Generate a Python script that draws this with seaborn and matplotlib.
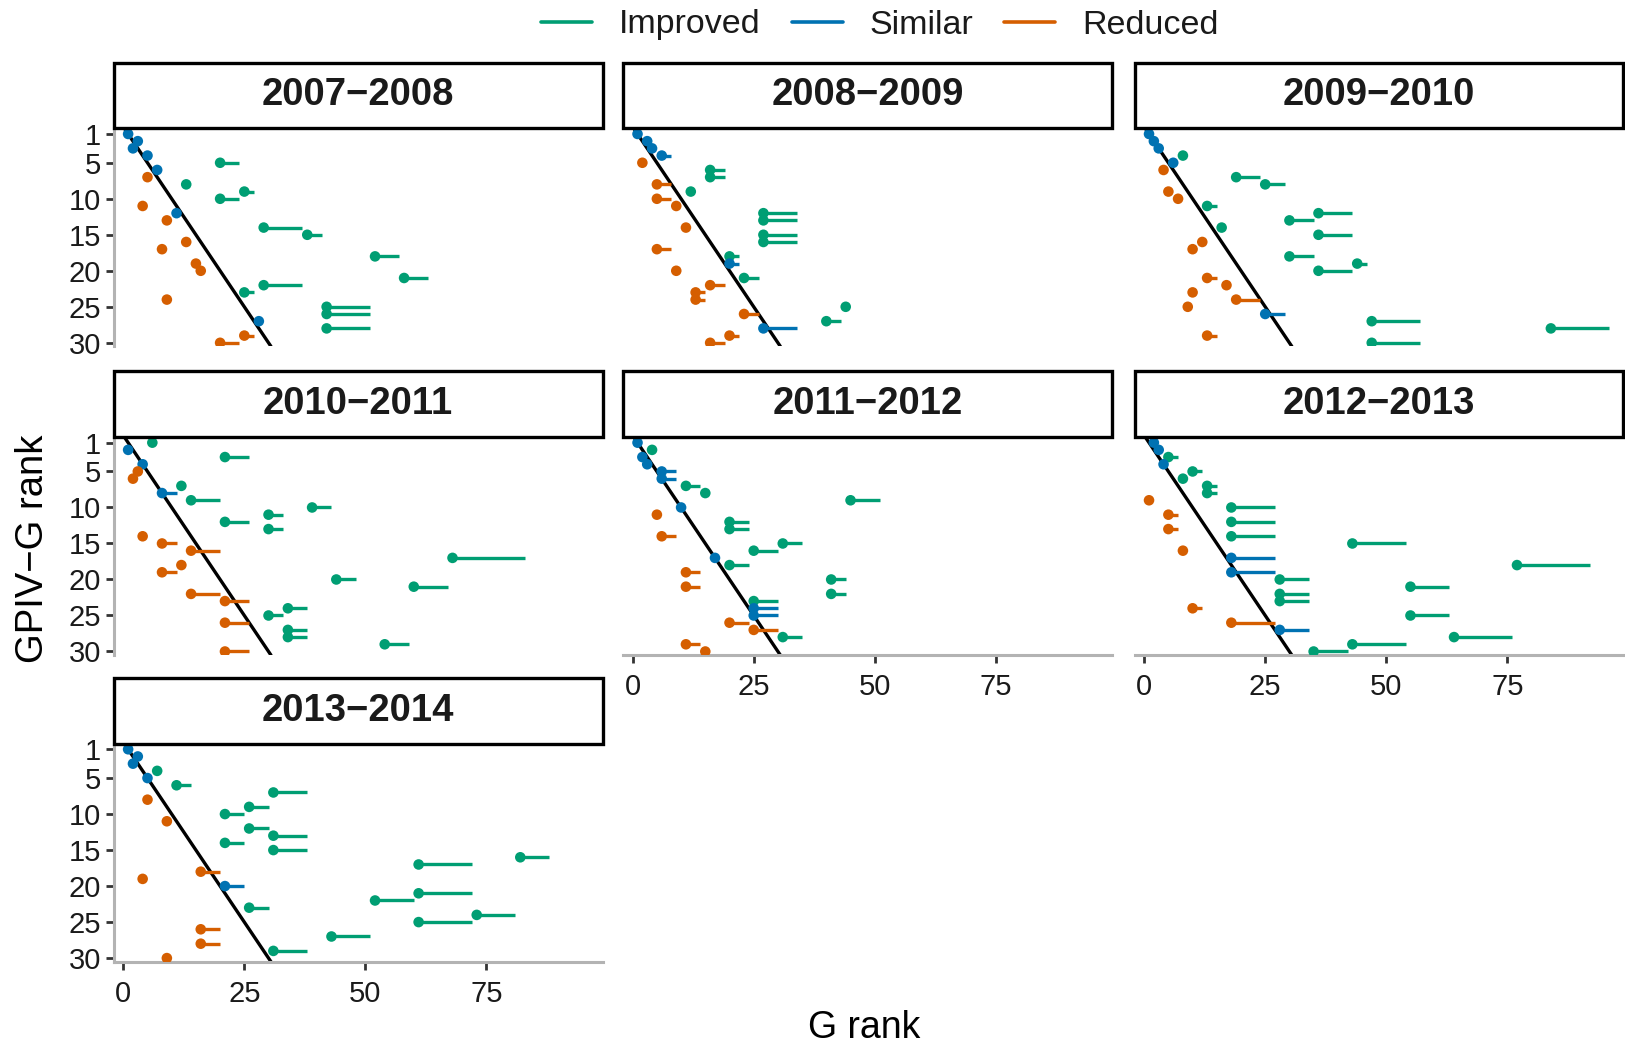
import matplotlib
matplotlib.use("Agg")
import matplotlib.pyplot as plt
from matplotlib.patches import Rectangle
from matplotlib.lines import Line2D
import pandas as pd
import seaborn as sns

# ---------------------------------------------------------------- data
PERIODS = ["2007−2008", "2008−2009", "2009−2010", "2010−2011",
           "2011−2012", "2012−2013", "2013−2014"]

# GPIV-G rank of each row (shared by every period)
GPIV_RANK = [1, 2, 3, 4, 5, 6, 7, 8, 9, 10, 11, 12, 13, 14, 15,
             16, 17, 18, 19, 20, 21, 22, 23, 24, 25, 26, 27, 28, 29, 30]

# G rank (start of tie range) and end of tie range, listed by GPIV-G rank
G_0708 = [1, 3, 2, 5, 20, 7, 5, 13, 25, 20, 4, 11, 9, 29, 38,
          13, 8, 52, 15, 16, 58, 29, 25, 9, 42, 42, 28, 42, 25, 20]
END_0708 = [1, 3, 2, 5, 24, 7, 5, 13, 27, 24, 4, 11, 9, 37, 41,
            13, 8, 57, 15, 16, 63, 37, 27, 9, 51, 51, 28, 51, 27, 24]
CHG_0708 = "SSSSISRIIIRSRIIRRIRRIIIRIISIRR"

G_0809 = [1, 3, 4, 6, 2, 16, 16, 5, 12, 5, 9, 27, 27, 11, 27,
          27, 5, 20, 20, 9, 23, 16, 13, 13, 44, 23, 40, 27, 20, 16]
END_0809 = [1, 3, 4, 8, 2, 19, 19, 8, 12, 8, 9, 34, 34, 11, 34,
            34, 8, 22, 22, 9, 26, 19, 15, 15, 44, 26, 43, 34, 22, 19]
CHG_0809 = "SSSSRIIRIRRIIRIIRISRIRRRIRISRR"

G_0910 = [1, 2, 3, 8, 6, 4, 19, 25, 5, 7, 13, 36, 30, 16, 36,
          12, 10, 30, 44, 36, 13, 17, 10, 19, 9, 25, 47, 84, 13, 47]
END_0910 = [1, 2, 3, 8, 6, 4, 24, 29, 5, 7, 15, 43, 35, 16, 43,
            12, 10, 35, 46, 43, 15, 17, 10, 24, 9, 29, 57, 96, 15, 57]
CHG_0910 = "SSSISRIIRRIIIIIRRIIIRRRRRSIIRI"

G_1011 = [6, 1, 21, 4, 3, 2, 12, 8, 14, 39, 30, 21, 30, 4, 8,
          14, 68, 12, 8, 44, 60, 14, 21, 34, 30, 21, 34, 34, 54, 21]
END_1011 = [6, 1, 26, 4, 3, 2, 12, 11, 20, 43, 33, 26, 33, 4, 11,
            20, 83, 12, 11, 48, 67, 20, 26, 38, 33, 26, 38, 38, 59, 26]
CHG_1011 = "ISISRRISIIIIIRRRIRRIIRRIIRIIIR"

G_1112 = [1, 4, 2, 3, 6, 6, 11, 15, 45, 10, 5, 20, 20, 6, 31,
          25, 17, 20, 11, 41, 11, 41, 25, 25, 25, 20, 25, 31, 11, 15]
END_1112 = [1, 4, 2, 3, 9, 9, 14, 15, 51, 10, 5, 24, 24, 9, 35,
            30, 17, 24, 14, 44, 14, 44, 30, 30, 30, 24, 30, 35, 14, 15]
CHG_1112 = "SISSSSIIISRIIRIISIRIRIISSRRIRR"

G_1213 = [2, 3, 5, 4, 10, 8, 13, 13, 1, 18, 5, 18, 5, 18, 43,
          8, 18, 77, 18, 28, 55, 28, 28, 10, 55, 18, 28, 64, 43, 35]
END_1213 = [2, 3, 7, 4, 12, 8, 15, 15, 1, 27, 7, 27, 7, 27, 54,
            8, 27, 92, 27, 34, 63, 34, 34, 12, 63, 27, 34, 76, 54, 42]
CHG_1213 = "SSISIIIIRIRIRIIRSISIIIIRIRSIII"

G_1314 = [1, 3, 2, 7, 5, 11, 31, 5, 26, 21, 9, 26, 31, 21, 31,
          82, 61, 16, 4, 21, 61, 52, 26, 73, 61, 16, 43, 16, 31, 9]
END_1314 = [1, 3, 2, 7, 5, 14, 38, 5, 30, 25, 9, 30, 38, 25, 38,
            88, 72, 20, 4, 25, 72, 60, 30, 81, 72, 20, 51, 20, 38, 9]
CHG_1314 = "SSSISIIRIIRIIIIIIRRSIIIIIRIRIR"

CHANGE_NAMES = {"I": "Improved", "S": "Similar", "R": "Reduced"}
HUE_ORDER = ["Improved", "Similar", "Reduced"]
PALETTE = {"Improved": "#009E73", "Similar": "#0072B2", "Reduced": "#D55E00"}

G_RANKS = [G_0708, G_0809, G_0910, G_1011, G_1112, G_1213, G_1314]
G_ENDS = [END_0708, END_0809, END_0910, END_1011, END_1112, END_1213, END_1314]
CHANGES = [CHG_0708, CHG_0809, CHG_0910, CHG_1011, CHG_1112, CHG_1213, CHG_1314]

records = []
for period, gr, ge, ch in zip(PERIODS, G_RANKS, G_ENDS, CHANGES):
    for y, x, xe, c in zip(GPIV_RANK, gr, ge, ch):
        records.append({"period": period, "gpiv_rank": y, "g_rank": x,
                        "g_end": xe, "change": CHANGE_NAMES[c]})
df = pd.DataFrame(records)

# ---------------------------------------------------------------- style
sns.set_style("white")
plt.rcParams["font.family"] = ["Liberation Sans", "DejaVu Sans"]

W, H = 1625, 1051
TICK_SIZE = 21
AXIS_GREY = "#b3b3b3"
TEXT_COL = "#1a1a1a"


def draw_panel(data, **kws):
    ax = plt.gca()
    ax.axline((0, 0), slope=1, color="black", lw=2.4, zorder=1)
    ax.hlines(data["gpiv_rank"], data["g_rank"], data["g_end"],
              colors=[PALETTE[c] for c in data["change"]], lw=2.4, zorder=2)
    sns.scatterplot(data=data, x="g_rank", y="gpiv_rank", hue="change",
                    hue_order=HUE_ORDER, palette=PALETTE, s=58, linewidth=0,
                    legend=False, ax=ax, zorder=3)


g = sns.FacetGrid(df, col="period", col_order=PERIODS, col_wrap=3,
                  sharex=True, sharey=True, height=3, aspect=1.6, despine=False)
g.map_dataframe(draw_panel)
g.set_titles("")
g.set_axis_labels("", "")

fig = g.figure
fig.set_size_inches(W / 100, H / 100)

# panel geometry in pixels
col_left = [113.6, 623.0, 1134.5]
row_top = [128.2, 436.9, 743.5]
panel_w, panel_h = 489.0, 218.2
strip_h = 65.5

for i, ax in enumerate(g.axes.flat):
    r, c = divmod(i, 3)
    left, top = col_left[c], row_top[r]
    ax.set_position([left / W, 1 - (top + panel_h) / H, panel_w / W, panel_h / H])
    ax.set_xlim(-2, 99)
    ax.set_ylim(30.5, 0.2)
    ax.set_xticks([0, 25, 50, 75])
    ax.set_yticks([1, 5, 10, 15, 20, 25, 30])
    ax.set_xlabel("")
    ax.set_ylabel("")

    is_left = c == 0
    is_bottom = i >= 4
    for side in ("top", "right"):
        ax.spines[side].set_visible(False)
    ax.spines["left"].set_visible(is_left)
    ax.spines["bottom"].set_visible(is_bottom)
    for side in ("left", "bottom"):
        ax.spines[side].set_color(AXIS_GREY)
        ax.spines[side].set_linewidth(2.2)
    ax.tick_params(axis="y", left=is_left, labelleft=is_left, length=6,
                   width=2.0, color="#333333", labelsize=TICK_SIZE,
                   labelcolor=TEXT_COL, pad=3)
    ax.tick_params(axis="x", bottom=is_bottom, labelbottom=is_bottom, length=6,
                   width=2.0, color="#333333", labelsize=TICK_SIZE,
                   labelcolor=TEXT_COL, pad=7)
    for lab in ax.get_xticklabels():
        lab.set_visible(is_bottom)
    for lab in ax.get_yticklabels():
        lab.set_visible(is_left)

    # facet strip
    h = strip_h / panel_h
    ax.add_patch(Rectangle((0, 1), 1, h, transform=ax.transAxes,
                           facecolor="white", edgecolor="black", lw=2.4,
                           clip_on=False, zorder=5))
    ax.text(0.5, 1 + h / 2, PERIODS[i], transform=ax.transAxes,
            ha="center", va="center", fontsize=27.5, fontweight="bold",
            color=TEXT_COL, zorder=6)

fig.text(864 / W, 1 - 1028 / H, "G rank", ha="center", va="center",
         fontsize=27, color="black")
fig.text(33 / W, 1 - 549 / H, "GPIV−G rank", ha="center", va="center",
         rotation=90, fontsize=27.5, color="black")

handles = [Line2D([], [], color=PALETTE[k], lw=2.6) for k in HUE_ORDER]
fig.legend(handles, HUE_ORDER, loc="center", bbox_to_anchor=(880 / W, 1 - 25 / H),
           ncol=3, frameon=False, fontsize=24.5, handlelength=1.5,
           handletextpad=0.8, columnspacing=0.9, labelcolor=TEXT_COL)

fig.savefig("out.png", dpi=100)
